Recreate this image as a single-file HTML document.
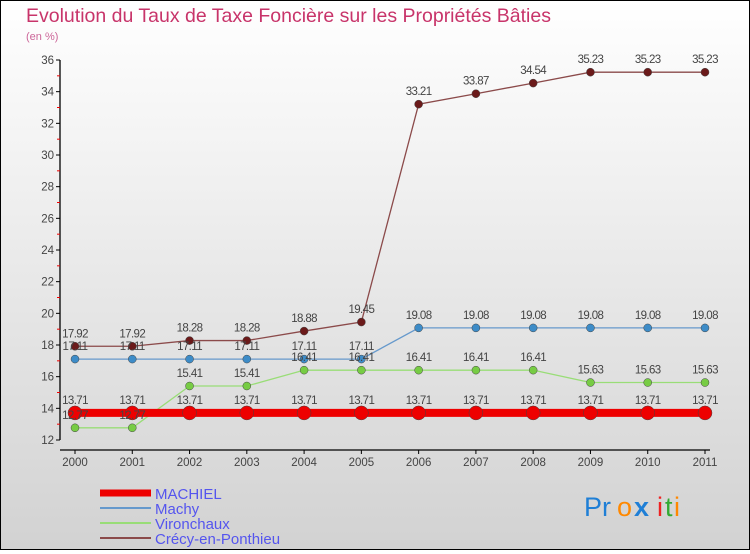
<!DOCTYPE html>
<html><head><meta charset="utf-8"><style>
html,body{margin:0;padding:0}
body{width:750px;height:550px;overflow:hidden;font-family:"DejaVu Sans","Liberation Sans",sans-serif}
</style></head><body>
<svg width="750" height="550" xmlns="http://www.w3.org/2000/svg">
<defs><linearGradient id="bg" x1="0" y1="0" x2="0" y2="1"><stop offset="0" stop-color="#ffffff"/><stop offset="1" stop-color="#d2d2d2"/></linearGradient></defs>
<rect x="0.5" y="0.5" width="749" height="549" fill="url(#bg)" stroke="#000"/>
<text x="26" y="22" font-size="19.5" fill="#c8346a" font-family="Liberation Sans, sans-serif">Evolution du Taux de Taxe Foncière sur les Propriétés Bâties</text>
<text x="26" y="40" font-size="11" fill="#cc6699" font-family="Liberation Sans, sans-serif">(en %)</text>
<g id="axes"></g>
<g id="series"></g>
<g id="legend"></g>
<g font-size="27" font-family="Liberation Sans, sans-serif">
<text x="584" y="516" fill="#1f7fd6">Pr</text><text x="617" y="516" fill="#ff8800">o</text><text x="634" y="516" fill="#1f7fd6" font-weight="bold">x</text><text x="657" y="516" fill="#ee2222">i</text><text x="665" y="516" fill="#33aa33">t</text><text x="674" y="516" fill="#ff8800">i</text>
</g>
</svg>
<script>
const years=[2000,2001,2002,2003,2004,2005,2006,2007,2008,2009,2010,2011];
const machiel=[13.71,13.71,13.71,13.71,13.71,13.71,13.71,13.71,13.71,13.71,13.71,13.71];
const machy=[17.11,17.11,17.11,17.11,17.11,17.11,19.08,19.08,19.08,19.08,19.08,19.08];
const vironchaux=[12.77,12.77,15.41,15.41,16.41,16.41,16.41,16.41,16.41,15.63,15.63,15.63];
const crecy=[17.92,17.92,18.28,18.28,18.88,19.45,33.21,33.87,34.54,35.23,35.23,35.23];
const yTicks=[12,14,16,18,20,22,24,26,28,30,32,34,36];
const NS="http://www.w3.org/2000/svg";
const xS=i=>75+i*(630/11);
const yS=v=>440-(v-12)*(380/24);
function mk(p,tag,a){const e=document.createElementNS(NS,tag);for(const k in a)e.setAttribute(k,a[k]);p.appendChild(e);return e;}
const ax=document.getElementById('axes');
let l=mk(ax,'path',{d:'M60 60V440M60 450H710',stroke:'#000','stroke-width':1.3,fill:'none'});

yTicks.forEach(v=>{const y=yS(v);
 let t=mk(ax,'line',{x1:56,x2:60,y1:y,y2:y,stroke:'#000'});
 let tx=mk(ax,'text',{x:54,y:y+4,'text-anchor':'end','font-size':11.5,fill:'#444','font-family':'Liberation Sans, sans-serif'});tx.textContent=v;
 
 if(v<36){const ym=yS(v+1);let m=mk(ax,'line',{x1:57,x2:60,y1:ym,y2:ym,stroke:'#e00'});}
});
years.forEach((yr,i)=>{const x=xS(i);
 let t=mk(ax,'line',{x1:x,x2:x,y1:450,y2:454,stroke:'#000'});
 let tx=mk(ax,'text',{x:x,y:466,'text-anchor':'middle','font-size':11.5,fill:'#444','font-family':'Liberation Sans, sans-serif'});tx.textContent=yr;
 
});
const series=[
 {name:'crecy',vals:crecy,color:'#6b1a1a',line:'#8b4a4a',w:1.3,r:4},
 {name:'machy',vals:machy,color:'#3d8cc8',line:'#6699cc',w:1.3,r:4},
 {name:'vironchaux',vals:vironchaux,color:'#77cc44',line:'#99dd77',w:1.3,r:4},
 {name:'machiel',vals:machiel,color:'#ee0000',line:'#ee0000',w:8,r:7}
];
const sg=document.getElementById('series');
series.forEach(s=>{
 let p=mk(sg,'polyline',{points:s.vals.map((v,i)=>xS(i)+','+yS(v)).join(' '),fill:'none',stroke:s.line,'stroke-width':s.w});
 
 s.vals.forEach((v,i)=>{
  let c=mk(sg,'circle',{cx:xS(i),cy:yS(v),r:s.r,fill:s.color,stroke:'#444','stroke-width':0.5});
  
 });
});
series.forEach(s=>{s.vals.forEach((v,i)=>{
  let t=mk(sg,'text',{x:xS(i),y:yS(v)-9,'text-anchor':'middle','font-size':11.5,fill:'#444','letter-spacing':'-0.6','font-family':'Liberation Sans, sans-serif'});t.textContent=v.toFixed(2).replace(/0$/,'');
  
});});
const lg=document.getElementById('legend');
const leg=[['MACHIEL','#ee0000',7],['Machy','#6699cc',2],['Vironchaux','#99dd77',2],['Crécy-en-Ponthieu','#8b4a4a',2]];
leg.forEach((e,i)=>{const y=493+i*15;
 let li=mk(lg,'line',{x1:100,x2:151,y1:y,y2:y,stroke:e[1],'stroke-width':e[2]});
 let t=mk(lg,'text',{x:155,y:y+6,'font-size':15,fill:'#5555ee','font-family':'Liberation Sans, sans-serif'});t.textContent=e[0];
 
});
</script>
</body></html>
